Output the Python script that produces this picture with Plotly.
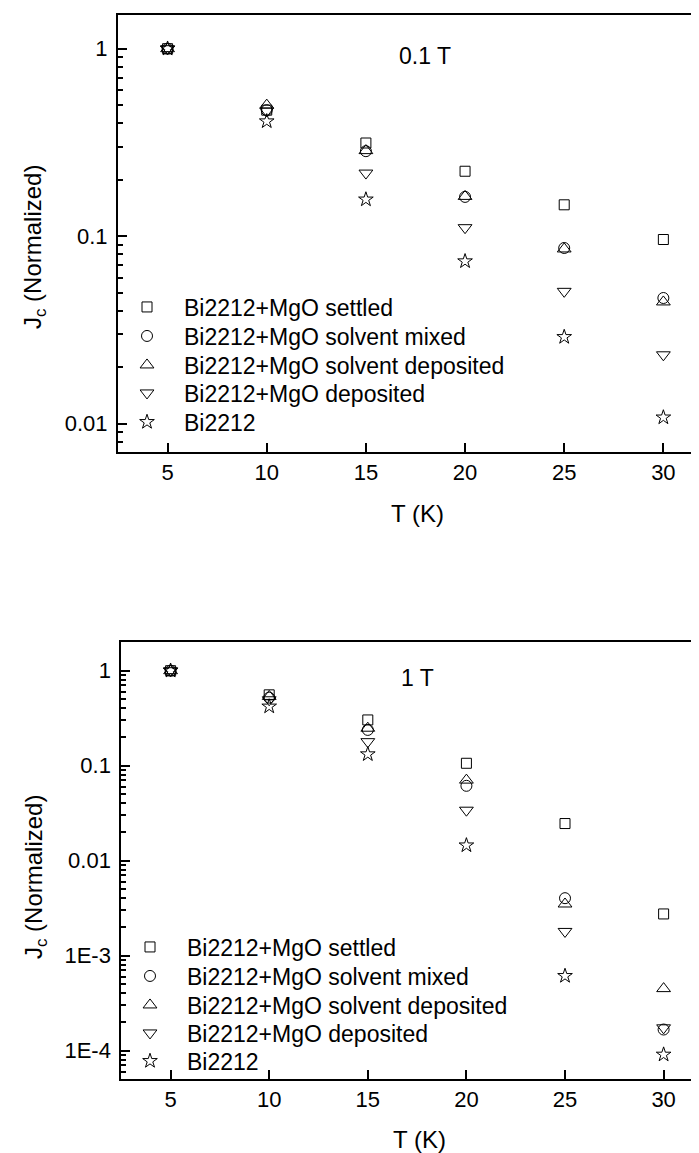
import plotly.graph_objects as go

# ---- data ----
T = [5, 10, 15, 20, 25, 30]
series_names = [
    "Bi2212+MgO settled",
    "Bi2212+MgO solvent mixed",
    "Bi2212+MgO solvent deposited",
    "Bi2212+MgO deposited",
    "Bi2212",
]
symbols = ["square-open", "circle-open", "triangle-up-open", "triangle-down-open", "star-open"]
sizes = [10, 11, 12, 12, 11]

# 0.1 T panel
jc_01T_settled = [1.0, 0.47, 0.314, 0.222, 0.147, 0.096]
jc_01T_solv_mixed = [1.0, 0.47, 0.284, 0.162, 0.0865, 0.0468]
jc_01T_solv_dep = [1.0, 0.50, 0.286, 0.163, 0.0855, 0.0446]
jc_01T_dep = [1.0, 0.465, 0.217, 0.111, 0.0508, 0.0233]
jc_01T_bi2212 = [1.0, 0.41, 0.157, 0.0735, 0.029, 0.0108]

# 1 T panel
jc_1T_settled = [1.0, 0.557, 0.303, 0.106, 0.0246, 0.00275]
jc_1T_solv_mixed = [1.0, 0.52, 0.238, 0.0614, 0.00403, 0.000167]
jc_1T_solv_dep = [1.0, 0.536, 0.248, 0.0705, 0.0035, 0.00045]
jc_1T_dep = [1.0, 0.494, 0.179, 0.034, 0.0018, 0.000174]
jc_1T_bi2212 = [1.0, 0.42, 0.132, 0.0145, 0.000612, 0.000091]

top_data = [jc_01T_settled, jc_01T_solv_mixed, jc_01T_solv_dep, jc_01T_dep, jc_01T_bi2212]
bot_data = [jc_1T_settled, jc_1T_solv_mixed, jc_1T_solv_dep, jc_1T_dep, jc_1T_bi2212]

x_ticks = [5, 10, 15, 20, 25, 30]
top_yticks = [0.01, 0.1, 1]
top_yticktext = ["0.01", "0.1", "1"]
bot_yticks = [1e-4, 1e-3, 0.01, 0.1, 1]
bot_yticktext = ["1E-4", "1E-3", "0.01", "0.1", "1"]

def minor_vals(lo_exp, hi_exp):
    vals = []
    for e in range(lo_exp, hi_exp):
        for m in range(2, 10):
            vals.append(m * 10.0 ** e)
    return vals

FONT = "Liberation Sans, Arial, sans-serif"
W, H = 699, 1153
TICKSZ = 22
LEGSZ = 23

def py(px):
    return 1 - px / H

def pxx(px):
    return px / W

# legend row centres (pixels) for each panel
top_rows = [299, 328, 357, 385, 414]
bot_rows = [939, 968, 997, 1025, 1053]

fig = go.Figure()
legend_layout = {}
k = 0
for panel, (data, rows, xa, ya, lx) in enumerate([
        (top_data, top_rows, "x", "y", 102),
        (bot_data, bot_rows, "x2", "y2", 105)]):
    for name, sym, sz, ys, ry in zip(series_names, symbols, sizes, data, rows):
        k += 1
        lname = "legend" if k == 1 else f"legend{k}"
        fig.add_trace(go.Scatter(x=T, y=ys, mode="markers", name=name, xaxis=xa, yaxis=ya,
                                 legend=lname,
                                 marker=dict(symbol=sym, size=sz, color="black",
                                             line=dict(color="black", width=1))))
        legend_layout[lname] = dict(x=pxx(lx), y=py(ry), xanchor="left", yanchor="middle",
                                    bgcolor="rgba(0,0,0,0)", borderwidth=0,
                                    itemsizing="trace", itemwidth=64,
                                    font=dict(family=FONT, size=LEGSZ, color="black"))

xcommon = dict(range=[2.5, 32.2], tickmode="array", tickvals=x_ticks,
               ticks="inside", ticklen=9, tickwidth=1.5, tickcolor="black",
               showline=True, linewidth=2, linecolor="black", mirror=True,
               showgrid=False, zeroline=False,
               tickfont=dict(family=FONT, size=TICKSZ, color="black"))
ycommon = dict(type="log", tickmode="array",
               ticks="inside", ticklen=9, tickwidth=1.5, tickcolor="black",
               showline=True, linewidth=2, linecolor="black", mirror=False,
               showgrid=False, zeroline=False, ticklabelstandoff=4,
               tickfont=dict(family=FONT, size=TICKSZ, color="black"))

fig.update_layout(
    width=W, height=H,
    margin=dict(l=0, r=0, t=0, b=0),
    paper_bgcolor="white", plot_bgcolor="white",
    font=dict(family=FONT, size=TICKSZ, color="black"),
    xaxis=dict(domain=[pxx(110), 1], anchor="y", **xcommon),
    yaxis=dict(domain=[py(444), py(7.3)], anchor="x", range=[-2.151, 0.178],
               tickvals=top_yticks, ticktext=top_yticktext,
               minor=dict(tickmode="array", tickvals=minor_vals(-3, 0), ticks="inside",
                          ticklen=5, tickwidth=1.5, tickcolor="black", showgrid=False),
               **ycommon),
    xaxis2=dict(domain=[pxx(113.3), 1], anchor="y2", **xcommon),
    yaxis2=dict(domain=[py(1070.7), py(634)], anchor="x2", range=[-4.295, 0.302],
                tickvals=bot_yticks, ticktext=bot_yticktext,
                minor=dict(tickmode="array", tickvals=minor_vals(-5, 0), ticks="inside",
                           ticklen=5, tickwidth=1.5, tickcolor="black", showgrid=False),
                **ycommon),
    showlegend=True,
    **legend_layout,
)

ann = [
    dict(text="0.1 T", x=pxx(417), y=py(48), size=23),
    dict(text="1 T", x=pxx(409), y=py(670), size=23),
    dict(text="T (K)", x=pxx(409), y=py(506), size=24),
    dict(text="T (K)", x=pxx(412), y=py(1131), size=24),
    dict(text="J<sub>c</sub> (Normalized)", x=pxx(27), y=py(239), size=24, angle=-90),
    dict(text="J<sub>c</sub> (Normalized)", x=pxx(27), y=py(869), size=24, angle=-90),
]
for a in ann:
    fig.add_annotation(text=a["text"], x=a["x"], y=a["y"], xref="paper", yref="paper",
                       xanchor="center", yanchor="middle", showarrow=False,
                       textangle=a.get("angle", 0),
                       font=dict(family=FONT, size=a.get("size", 20), color="black"))

fig.write_html("out.html")
